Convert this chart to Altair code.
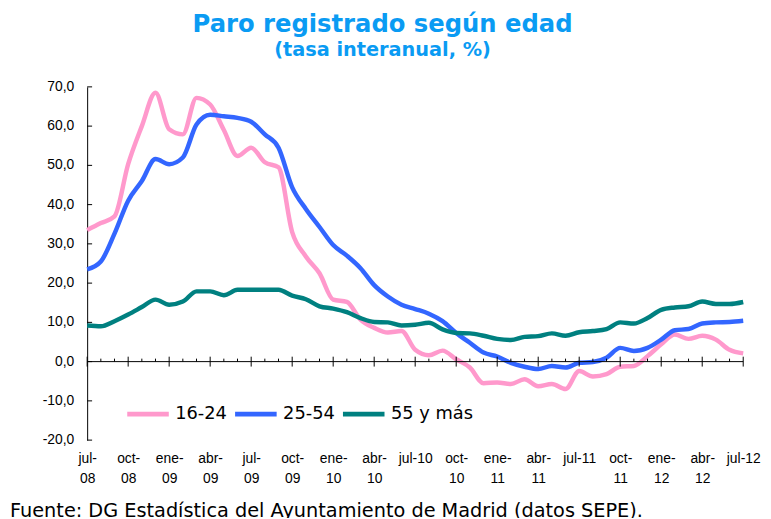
import altair as alt
import pandas as pd

# --- data (monthly, jul-08 .. jul-12) ---
months = list(range(49))
s_1624 = [33.5, 35.3, 37.0, 50.3, 60.0, 68.5, 59.2, 57.9, 67.2, 65.5, 59.0, 52.4, 54.5,
          50.8, 49.5, 33.0, 26.8, 22.5, 15.8, 15.2, 10.7, 8.6, 7.4, 7.8, 3.0, 1.6, 2.8,
          0.6, -1.5, -5.5, -5.3, -5.7, -4.5, -6.3, -5.7, -7.0, -2.4, -3.8, -3.2, -1.3,
          -1.1, 1.4, 4.4, 6.9, 5.8, 6.6, 5.6, 3.0, 2.1]
s_2554 = [23.5, 25.5, 32.6, 41.0, 46.0, 51.6, 50.3, 52.0, 60.4, 62.9, 62.5, 62.1, 61.1,
          57.9, 54.5, 44.4, 38.9, 34.3, 29.7, 27.0, 23.8, 19.5, 16.6, 14.5, 13.4, 12.2,
          10.3, 7.3, 4.8, 2.3, 1.3, -0.3, -1.3, -1.9, -1.1, -1.5, -0.3, -0.1, 1.0, 3.5,
          2.7, 3.5, 5.6, 8.0, 8.3, 9.7, 10.0, 10.1, 10.4]
s_55 = [9.2, 9.0, 10.3, 12.0, 13.9, 15.8, 14.5, 15.3, 17.9, 17.9, 16.9, 18.3, 18.3,
        18.3, 18.3, 16.8, 15.9, 14.1, 13.5, 12.6, 11.1, 10.1, 10.0, 9.2, 9.4, 9.9,
        8.2, 7.3, 7.2, 6.6, 5.8, 5.5, 6.3, 6.5, 7.2, 6.6, 7.5, 7.8, 8.3, 10.0, 9.7,
        11.1, 13.2, 13.8, 14.1, 15.3, 14.7, 14.7, 15.2]
series_names = ["16-24", "25-54", "55 y más"]
series_colors = ["#FF99CC", "#3366FF", "#008080"]

x_tick_values = list(range(0, 49, 3))
x_tick_labels = [["jul-", "08"], ["oct-", "08"], ["ene-", "09"], ["abr-", "09"],
                 ["jul-", "09"], ["oct-", "09"], ["ene-", "10"], ["abr-", "10"],
                 ["jul-10"], ["oct-", "10"], ["ene-", "11"], ["abr-", "11"],
                 ["jul-11"], ["oct-", "11"], ["ene-", "12"], ["abr-", "12"],
                 ["jul-12"]]
y_tick_values = list(range(-20, 71, 10))
y_tick_labels = ["-20,0", "-10,0", "0,0", "10,0", "20,0", "30,0", "40,0", "50,0",
                 "60,0", "70,0"]

footer = "Fuente: DG Estadística del Ayuntamiento de Madrid (datos SEPE)."

# --- tables ---
rows = []
for name, vals in zip(series_names, [s_1624, s_2554, s_55]):
    for m, v in zip(months, vals):
        rows.append({"mes": m, "valor": v, "serie": name})
df = pd.DataFrame(rows)
ticks_df = pd.DataFrame({"mes": months, "major": [m % 3 == 0 for m in months]})
ytick_df = pd.DataFrame({"v": y_tick_values, "lab": y_tick_labels})
zero_df = pd.DataFrame({"y": [0]})
foot_df = pd.DataFrame({"t": [footer]})

label_js = "[" + ",".join("[" + ",".join("'%s'" % s for s in lab) + "]" for lab in x_tick_labels) + "]"

xscale = alt.Scale(domain=[0, 48], nice=False, zero=False)
yscale = alt.Scale(domain=[-20, 70], nice=False)

x_axis = alt.Axis(values=x_tick_values, labelExpr=label_js + "[round(datum.value/3)]",
                  domain=False, ticks=False, grid=False, labelPadding=12,
                  labelLineHeight=20, labelFontSize=14, labelFont="Liberation Sans",
                  labelColor="black", labelOverlap=False, labelFlush=False, title=None)
y_axis = alt.Axis(values=y_tick_values, labels=False, domain=True,
                  domainColor="black", ticks=False, grid=False, title=None)

lines = alt.Chart(df).mark_line(strokeWidth=4.5, interpolate="monotone").encode(
    x=alt.X("mes:Q", scale=xscale, axis=x_axis),
    y=alt.Y("valor:Q", scale=yscale, axis=y_axis),
    color=alt.Color("serie:N",
                    scale=alt.Scale(domain=series_names, range=series_colors),
                    sort=series_names,
                    legend=alt.Legend(orient="none", legendX=38, legendY=307,
                                      direction="horizontal", title=None,
                                      symbolType="stroke", symbolSize=1764,
                                      symbolStrokeWidth=5, labelFont="DejaVu Sans",
                                      labelFontSize=18, labelColor="black",
                                      labelOffset=4, columnPadding=-3)),
)

zero_line = alt.Chart(zero_df).mark_rule(color="black", strokeWidth=1).encode(
    y=alt.Y("y:Q", scale=yscale, axis=y_axis))

minor_ticks = alt.Chart(ticks_df).transform_filter("!datum.major").mark_rule(
    color="black", strokeWidth=1, yOffset=-3, y2Offset=0).encode(
    x=alt.X("mes:Q", scale=xscale, axis=x_axis), y=alt.datum(0), y2=alt.datum(0))

major_ticks = alt.Chart(ticks_df).transform_filter("datum.major").mark_rule(
    color="black", strokeWidth=1, yOffset=-5, y2Offset=5).encode(
    x=alt.X("mes:Q", scale=xscale, axis=x_axis), y=alt.datum(0), y2=alt.datum(0))

y_ticks = alt.Chart(ytick_df).mark_rule(color="black", strokeWidth=1).encode(
    y=alt.Y("v:Q", scale=yscale, axis=y_axis), x=alt.value(0), x2=alt.value(5))

y_labels = alt.Chart(ytick_df).mark_text(align="right", baseline="middle",
                                         font="Liberation Sans", fontSize=14,
                                         color="black").encode(
    y=alt.Y("v:Q", scale=yscale, axis=y_axis), x=alt.value(-13), text="lab:N")

foot = alt.Chart(foot_df).mark_text(align="left", baseline="alphabetic",
                                    font="DejaVu Sans", fontSize=19.5, color="black").encode(
    x=alt.value(-78), y=alt.value(435), text="t:N")

chart = alt.layer(lines, zero_line, minor_ticks, major_ticks, y_ticks, y_labels, foot).properties(
    width=663, height=357,
    padding={"left": 80, "top": 77, "right": 20, "bottom": 76},
    autosize=alt.AutoSizeParams(type="none"),
    title=alt.TitleParams(text="Paro registrado según edad",
                          subtitle="(tasa interanual, %)",
                          font="DejaVu Sans", fontSize=24.5, fontWeight="bold",
                          color="#0A9BF3", subtitleFont="DejaVu Sans",
                          subtitleFontSize=19.5, subtitleFontWeight="bold",
                          subtitleColor="#0A9BF3", anchor="middle", dx=-33,
                          offset=20, subtitlePadding=3),
).configure_view(stroke=None)

chart.save("out.html", embed_options={"renderer": "svg", "actions": False})
